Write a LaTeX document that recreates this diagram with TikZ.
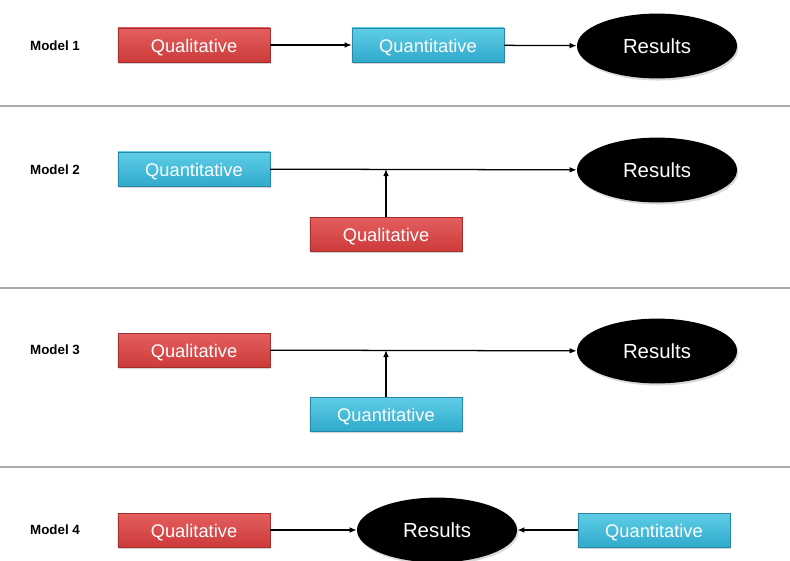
\documentclass[tikz,border=0pt]{standalone}
\usepackage{fontspec}
\setmainfont{Liberation Sans}
\usetikzlibrary{arrows.meta,shapes.geometric,shadows}

\definecolor{qualred}{RGB}{205,58,58}
\definecolor{qualtop}{RGB}{228,95,95}
\definecolor{quancyan}{RGB}{48,170,205}
\definecolor{quantop}{RGB}{95,205,230}
\definecolor{sepgray}{RGB}{170,170,170}

\tikzset{
  box/.style={rectangle, minimum width=3.8cm, minimum height=0.85cm, inner sep=0pt,
    text=white, font=\fontsize{13}{15}\selectfont, text height=1em, text depth=0pt,
    drop shadow={shadow xshift=1pt, shadow yshift=-1.5pt, opacity=.35}},
  qual/.style={box, top color=qualtop, bottom color=qualred, draw=qualred!80!black, line width=0.3pt},
  quan/.style={box, top color=quantop, bottom color=quancyan, draw=quancyan!80!black, line width=0.3pt},
  res/.style={ellipse, fill=black, minimum width=4cm, minimum height=1.62cm, inner sep=0pt,
    text=white, font=\fontsize{14.5}{17}\selectfont, text height=1em, text depth=0pt,
    drop shadow={shadow xshift=1pt, shadow yshift=-1.5pt, opacity=.3}},
  model/.style={font=\bfseries\fontsize{9.5}{11}\selectfont},
  link/.style={-{Latex[length=5pt,width=4pt]}, line width=0.9pt},
  sep/.style={sepgray, line width=0.8pt}
}

\begin{document}
\begin{tikzpicture}[x=0.025cm,y=-0.025cm]
    \useasboundingbox (0,0) rectangle (790,560);

    % separators
    \draw[sep] (0,106) -- (790,106);
    \draw[sep] (0,288) -- (790,288);
    \draw[sep] (0,467) -- (790,467);

    % model 1
    \node[model] (m1) at (55,46) {Model 1};
    \node[qual] (ql1) at (194,45) {Qualitative};
    \node[quan] (qn1) at (428,45) {Quantitative};
    \node[res] (r1) at (657,46) {Results};
    \draw[link] (ql1) -- (qn1);
    \draw[link] (qn1) -- (r1);

    % model 2
    \node[model] (m2) at (55,170) {Model 2};
    \node[quan] (qn2) at (194,169) {Quantitative};
    \node[qual] (ql2) at (386,234) {Qualitative};
    \node[res] (r2) at (657,170) {Results};
    \draw[link] (qn2) -- (r2);
    \draw[link] (ql2.north) -- (ql2.north |- qn2.east);

    % model 3
    \node[model] (m3) at (55,350) {Model 3};
    \node[qual] (ql3) at (194,350) {Qualitative};
    \node[quan] (qn3) at (386,414) {Quantitative};
    \node[res] (r3) at (657,351) {Results};
    \draw[link] (ql3) -- (r3);
    \draw[link] (qn3.north) -- (qn3.north |- ql3.east);

    % model 4
    \node[model] (m4) at (55,530) {Model 4};
    \node[qual] (ql4) at (194,530) {Qualitative};
    \node[res] (r4) at (437,530) {Results};
    \node[quan] (qn4) at (654,530) {Quantitative};
    \draw[link] (ql4) -- (r4);
    \draw[link] (qn4) -- (r4);

\end{tikzpicture}
\end{document}
